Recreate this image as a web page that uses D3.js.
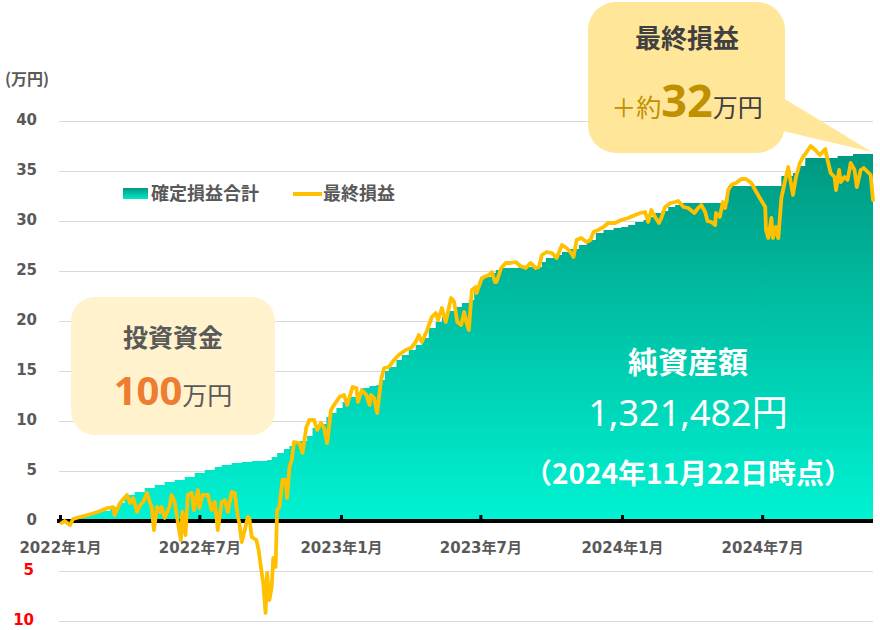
<!DOCTYPE html>
<html><head><meta charset="utf-8">
<script src="https://cdn.jsdelivr.net/npm/d3@7"></script>
<style>
html,body{margin:0;padding:0;background:#fff;}
svg{display:block;}
</style></head><body>
<svg id="chart" width="880" height="630"></svg>
<script>
// ---- data (万円) ----
const lineDates = ["2022-01-03","2022-01-07","2022-01-14","2022-01-18","2022-01-27","2022-02-06","2022-02-19","2022-03-04","2022-03-11","2022-03-13","2022-03-20","2022-03-29","2022-04-02","2022-04-06","2022-04-11","2022-04-15","2022-04-19","2022-04-24","2022-04-28","2022-04-30","2022-05-03","2022-05-07","2022-05-11","2022-05-13","2022-05-17","2022-05-23","2022-05-26","2022-05-30","2022-06-03","2022-06-07","2022-06-09","2022-06-13","2022-06-16","2022-06-21","2022-06-24","2022-06-29","2022-07-01","2022-07-05","2022-07-12","2022-07-17","2022-07-21","2022-07-25","2022-07-30","2022-08-03","2022-08-07","2022-08-12","2022-08-16","2022-08-20","2022-08-22","2022-08-25","2022-08-29","2022-09-02","2022-09-04","2022-09-07","2022-09-13","2022-09-16","2022-09-20","2022-09-22","2022-09-25","2022-09-27","2022-09-30","2022-10-03","2022-10-05","2022-10-08","2022-10-10","2022-10-13","2022-10-17","2022-10-21","2022-10-23","2022-10-26","2022-10-29","2022-11-01","2022-11-08","2022-11-12","2022-11-17","2022-11-21","2022-11-27","2022-12-01","2022-12-06","2022-12-10","2022-12-14","2022-12-19","2022-12-23","2022-12-30","2023-01-05","2023-01-09","2023-01-16","2023-01-21","2023-01-23","2023-01-28","2023-02-03","2023-02-07","2023-02-09","2023-02-13","2023-02-17","2023-02-22","2023-02-26","2023-03-04","2023-03-11","2023-03-17","2023-03-26","2023-04-02","2023-04-08","2023-04-12","2023-04-16","2023-04-23","2023-04-29","2023-05-04","2023-05-07","2023-05-12","2023-05-17","2023-05-24","2023-05-28","2023-06-01","2023-06-06","2023-06-10","2023-06-13","2023-06-16","2023-06-20","2023-06-25","2023-06-26","2023-07-03","2023-07-12","2023-07-16","2023-07-20","2023-07-22","2023-07-28","2023-08-03","2023-08-09","2023-08-16","2023-08-22","2023-08-29","2023-09-04","2023-09-11","2023-09-15","2023-09-19","2023-09-25","2023-10-02","2023-10-08","2023-10-15","2023-10-21","2023-10-26","2023-10-30","2023-11-03","2023-11-09","2023-11-16","2023-11-21","2023-11-25","2023-12-01","2023-12-08","2023-12-14","2023-12-23","2023-12-31","2024-01-09","2024-01-18","2024-01-25","2024-01-31","2024-02-04","2024-02-08","2024-02-13","2024-02-18","2024-02-21","2024-02-26","2024-03-04","2024-03-10","2024-03-14","2024-03-21","2024-03-27","2024-04-04","2024-04-09","2024-04-13","2024-04-18","2024-04-21","2024-04-26","2024-05-01","2024-05-02","2024-05-07","2024-05-11","2024-05-14","2024-05-18","2024-05-22","2024-05-28","2024-06-04","2024-06-10","2024-06-17","2024-06-22","2024-06-28","2024-07-05","2024-07-06","2024-07-09","2024-07-13","2024-07-15","2024-07-19","2024-07-22","2024-07-26","2024-07-31","2024-08-04","2024-08-06","2024-08-10","2024-08-14","2024-08-19","2024-08-23","2024-08-27","2024-09-02","2024-09-08","2024-09-14","2024-09-21","2024-09-24","2024-09-28","2024-10-03","2024-10-05","2024-10-09","2024-10-11","2024-10-16","2024-10-20","2024-10-24","2024-10-29","2024-11-01","2024-11-06","2024-11-10","2024-11-19","2024-11-22"];
const lineValues = [-0.2,0.0,-0.4,0.2,0.4,0.6,0.9,1.3,1.4,0.6,1.8,2.6,1.8,2.3,0.9,1.6,1.9,2.8,1.8,1.4,-0.9,1.4,0.9,1.4,0.3,1.4,2.6,1.9,-0.1,-1.9,0.9,-1.4,2.6,2.8,1.1,3.1,1.3,2.6,2.6,1.1,1.9,-0.9,1.9,2.1,0.9,2.9,2.8,0.4,-0.2,-2.1,-0.9,0.4,0.3,-1.6,-1.9,-2.9,-5.2,-6.2,-9.2,-5.2,-7.9,-6.6,-3.7,-4.6,1.1,1.4,4.1,4.1,2.3,5.4,6.1,7.9,7.8,6.8,9.4,10.1,10.1,9.1,9.8,9.3,7.8,11.1,11.6,12.4,12.6,11.6,13.4,13.3,11.9,13.1,12.6,11.6,12.6,12.3,10.8,14.1,15.3,15.4,16.1,16.6,17.1,17.3,17.9,18.6,17.9,19.1,20.4,20.8,20.1,21.3,19.9,22.3,21.9,19.9,19.6,20.9,19.8,19.1,23.1,23.4,22.8,24.3,24.6,24.9,23.9,23.9,25.3,25.8,25.8,25.9,25.5,25.3,25.8,25.3,25.4,26.6,26.9,26.8,26.3,27.6,27.3,26.9,26.4,28.1,28.3,27.9,28.1,28.9,29.1,29.4,29.8,29.8,30.1,30.3,30.6,30.8,30.9,29.9,31.1,30.4,29.8,30.3,31.4,31.8,31.9,32.0,31.4,31.3,30.8,31.3,31.6,30.9,30.0,29.9,29.6,30.8,30.4,31.9,31.3,33.1,33.6,33.8,34.2,34.2,33.8,33.1,32.3,31.4,29.1,28.3,30.3,28.3,29.4,28.3,32.3,34.1,35.4,34.4,32.6,34.4,35.8,36.4,36.8,37.5,37.1,36.6,37.2,36.1,34.8,34.4,33.1,35.1,33.9,34.4,34.1,35.8,35.1,33.4,35.1,35.3,34.6,32.1];

const realizedDates = ["2022-01-03","2022-01-14","2022-01-27","2022-02-09","2022-02-22","2022-03-07","2022-03-17","2022-03-26","2022-04-08","2022-04-21","2022-05-04","2022-05-17","2022-05-30","2022-06-12","2022-06-25","2022-07-08","2022-07-21","2022-07-30","2022-08-12","2022-08-25","2022-09-07","2022-09-27","2022-10-03","2022-10-10","2022-10-19","2022-10-26","2022-11-01","2022-11-08","2022-11-18","2022-11-25","2022-12-04","2022-12-13","2022-12-19","2022-12-26","2023-01-03","2023-01-12","2023-01-21","2023-01-28","2023-02-07","2023-02-16","2023-02-22","2023-02-27","2023-03-04","2023-03-14","2023-03-21","2023-03-30","2023-04-08","2023-04-16","2023-04-25","2023-05-04","2023-05-12","2023-05-21","2023-05-30","2023-06-07","2023-06-16","2023-06-23","2023-06-29","2023-07-05","2023-07-15","2023-07-21","2023-07-29","2023-08-20","2023-09-19","2023-09-24","2023-10-04","2023-10-15","2023-10-24","2023-11-06","2023-11-16","2023-11-28","2023-12-08","2023-12-21","2023-12-31","2024-01-09","2024-01-18","2024-01-29","2024-02-04","2024-02-13","2024-02-21","2024-03-01","2024-03-10","2024-03-18","2024-05-18","2024-07-26","2024-08-10","2024-08-17","2024-08-26","2024-10-07","2024-10-27","2024-11-22"];
const realizedValues = [0,0.1,0.5,0.8,1.0,1.4,1.8,2.6,2.9,3.3,3.6,3.9,4.1,4.4,4.8,5.1,5.4,5.6,5.8,5.9,6.0,6.1,6.4,6.8,7.2,7.5,7.7,8.0,8.5,9.3,9.7,10.4,10.8,11.3,11.9,12.4,12.9,13.3,13.5,13.6,14.1,15.0,15.4,16.1,16.6,17.1,17.6,18.3,19.3,19.9,20.4,21.0,21.4,21.8,22.1,23.0,24.1,24.4,24.8,25.1,25.3,25.4,25.9,26.3,26.6,26.9,27.2,27.6,28.1,28.8,29.1,29.3,29.4,29.6,29.9,30.1,30.4,30.8,31.0,31.4,31.6,31.8,33.5,34.5,34.8,35.5,36.3,36.5,36.7,36.9];

const xDomain = ["2022-01-01","2024-11-22"];
const xTickDates = ["2022-01-01","2022-07-01","2023-01-01","2023-07-01","2024-01-01","2024-07-01"];
const xTickLabels = ["2022年1月","2022年7月","2023年1月","2023年7月","2024年1月","2024年7月"];
const yTicks = [-10,-5,0,5,10,15,20,25,30,35,40];
const yTickLabels = ["10","5","0","5","10","15","20","25","30","35","40"];
const yUnit = "(万円)";
const seriesNames = ["確定損益合計","最終損益"];

const capitalTitle = "投資資金", capitalValue = "100", capitalUnit = "万円";
const finalTitle = "最終損益", finalPrefix = "＋約", finalValue = "32", finalUnit = "万円";
const navTitle = "純資産額", navValue = "1,321,482円", navDate = "（2024年11月22日時点）";

// ---- drawing ----
const parse = d3.timeParse("%Y-%m-%d");
const svg = d3.select("#chart");
const x = d3.scaleTime().domain(xDomain.map(parse)).range([60, 873]);
const y = d3.scaleLinear().domain([-10, 40]).range([621, 121]);

const AX = '"DejaVu Sans","Noto Sans CJK JP",sans-serif';
const JP = '"Noto Sans CJK JP","Noto Sans",sans-serif';
const NUM = '"Noto Sans","Noto Sans CJK JP",sans-serif';

const defs = svg.append("defs");
const g1 = defs.append("linearGradient").attr("id","areaGrad")
  .attr("gradientUnits","userSpaceOnUse").attr("x1",0).attr("x2",0)
  .attr("y1", y(d3.max(realizedValues))).attr("y2", y(0));
g1.append("stop").attr("offset","0%").attr("stop-color","#009880");
g1.append("stop").attr("offset","100%").attr("stop-color","#00F3D3");
const g2 = defs.append("linearGradient").attr("id","legGrad").attr("x1",0).attr("x2",0).attr("y1",0).attr("y2",1);
g2.append("stop").attr("offset","0%").attr("stop-color","#009880");
g2.append("stop").attr("offset","100%").attr("stop-color","#00E8C8");

// gridlines + y labels
const yAxis = d3.axisLeft(y).tickValues(yTicks)
  .tickFormat((d,i)=>yTickLabels[i]).tickSizeInner(-(873-59)).tickSizeOuter(0).tickPadding(22);
const gy = svg.append("g").attr("transform","translate(59,0)").call(yAxis);
gy.select(".domain").remove();
gy.selectAll(".tick line").attr("stroke","#D9D9D9").attr("stroke-width",1);
gy.selectAll(".tick text")
  .attr("font-family",AX).attr("font-weight","bold").attr("font-size",15)
  .attr("dy","0.25em")
  .attr("fill",d=> d<0 ? "#FF0000" : "#595959")
  .attr("x",d=> d<0 ? -25 : -22);

svg.append("text").attr("x",5).attr("y",79).attr("dy","0.35em")
  .attr("font-family",JP).attr("font-weight","bold").attr("font-size",16)
  .attr("fill","#595959").text(yUnit);

// area
const areaData = realizedDates.map((d,i)=>({date:parse(d), v:realizedValues[i]}));
svg.append("path").datum(areaData)
  .attr("fill","url(#areaGrad)")
  .attr("d", d3.area().curve(d3.curveStepAfter).x(d=>x(d.date)).y0(y(0)).y1(d=>y(d.v)));

// x axis
const xAxis = d3.axisBottom(x).tickValues(xTickDates.map(parse))
  .tickFormat((d,i)=>xTickLabels[i]).tickSizeInner(-6).tickSizeOuter(0).tickPadding(21);
const gx = svg.append("g").attr("transform",`translate(0,${y(0)})`).call(xAxis);
gx.select(".domain").attr("stroke","#000").attr("stroke-width",4).attr("d",`M57,0H873`);
gx.selectAll(".tick line").attr("stroke","#000").attr("stroke-width",3);
gx.selectAll(".tick text").attr("font-family",AX).attr("font-weight","bold")
  .attr("font-size",15).attr("fill","#595959");

// line
const lineData = lineDates.map((d,i)=>({date:parse(d), v:lineValues[i]}));
svg.append("path").datum(lineData)
  .attr("fill","none").attr("stroke","#FFC000").attr("stroke-width",3.8)
  .attr("stroke-linejoin","round").attr("stroke-linecap","round")
  .attr("d", d3.line().x(d=>x(d.date)).y(d=>y(d.v)));

// legend
svg.append("rect").attr("x",123).attr("y",188).attr("width",25).attr("height",11).attr("fill","url(#legGrad)");
svg.append("text").attr("x",151).attr("y",194).attr("dy","0.35em")
  .attr("font-family",JP).attr("font-weight","bold").attr("font-size",18)
  .attr("fill","#595959").text(seriesNames[0]);
svg.append("line").attr("x1",293).attr("x2",322).attr("y1",194).attr("y2",194)
  .attr("stroke","#FFC000").attr("stroke-width",4);
svg.append("text").attr("x",323).attr("y",194).attr("dy","0.35em")
  .attr("font-family",JP).attr("font-weight","bold").attr("font-size",18)
  .attr("fill","#595959").text(seriesNames[1]);

// capital callout
svg.append("rect").attr("x",71).attr("y",297).attr("width",204).attr("height",138)
  .attr("rx",24).attr("fill","#FFF2CC");
svg.append("text").attr("x",173).attr("y",338).attr("dy","0.35em").attr("text-anchor","middle")
  .attr("font-family",JP).attr("font-weight","bold").attr("font-size",25)
  .attr("fill","#595959").text(capitalTitle);
const t1 = svg.append("text").attr("x",173).attr("y",405).attr("text-anchor","middle");
t1.append("tspan").attr("font-family",NUM).attr("font-weight","bold").attr("font-size",40)
  .attr("fill","#ED7D31").text(capitalValue);
t1.append("tspan").attr("font-family",JP).attr("font-size",25).attr("fill","#595959").text(capitalUnit);

// final P/L callout
const endPt = areaData[areaData.length-1];
svg.append("path").attr("fill","#FFE699")
  .attr("d",`M770,90L${x(endPt.date)-1},${y(endPt.v)}L770,128Z`);
svg.append("rect").attr("x",588).attr("y",2).attr("width",197).attr("height",151)
  .attr("rx",28).attr("fill","#FFE699");
svg.append("text").attr("x",687).attr("y",39).attr("dy","0.35em").attr("text-anchor","middle")
  .attr("font-family",JP).attr("font-weight","bold").attr("font-size",26)
  .attr("fill","#404040").text(finalTitle);
const t2 = svg.append("text").attr("x",687).attr("y",117).attr("text-anchor","middle");
t2.append("tspan").attr("font-family",JP).attr("font-size",25).attr("fill","#BF9000").text(finalPrefix);
t2.append("tspan").attr("font-family",NUM).attr("font-weight","bold").attr("font-size",45)
  .attr("fill","#BF9000").text(finalValue);
t2.append("tspan").attr("font-family",JP).attr("font-size",25).attr("fill","#404040").text(finalUnit);

// net asset texts
svg.append("text").attr("x",688).attr("y",362).attr("dy","0.35em").attr("text-anchor","middle")
  .attr("font-family",JP).attr("font-weight","bold").attr("font-size",30)
  .attr("fill","#fff").text(navTitle);
svg.append("text").attr("x",688).attr("y",413).attr("dy","0.35em").attr("text-anchor","middle")
  .attr("font-family",NUM).attr("font-size",36)
  .attr("fill","#fff").text(navValue);
svg.append("text").attr("x",688).attr("y",474).attr("dy","0.35em").attr("text-anchor","middle")
  .attr("font-family",JP).attr("font-weight","bold").attr("font-size",28)
  .attr("fill","#fff").text(navDate);
</script>
</body></html>
